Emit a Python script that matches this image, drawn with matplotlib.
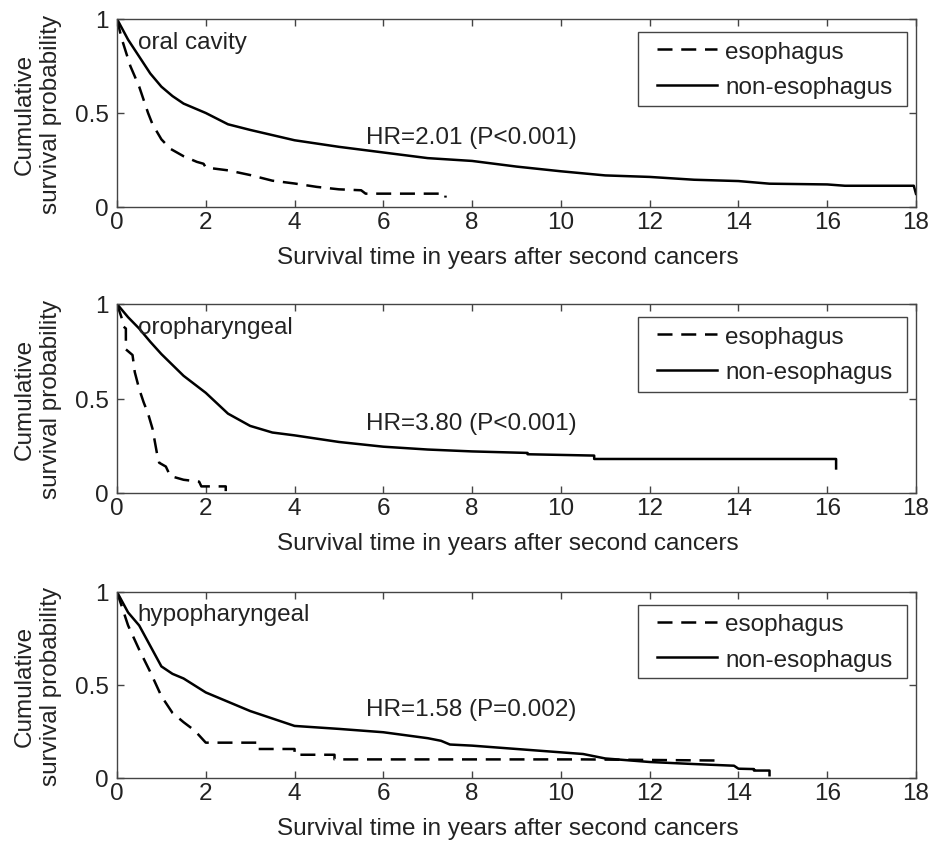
import matplotlib
matplotlib.use("Agg")
import matplotlib.pyplot as plt
from matplotlib.patches import Rectangle

plt.rcParams['font.family'] = ['Liberation Sans', 'DejaVu Sans']

# ---------------- data ----------------
sites = ["oral cavity", "oropharyngeal", "hypopharyngeal"]
hr_texts = ["HR=2.01 (P<0.001)", "HR=3.80 (P<0.001)", "HR=1.58 (P=0.002)"]
legend_labels = ["esophagus", "non-esophagus"]
x_ticks = [0, 2, 4, 6, 8, 10, 12, 14, 16, 18]
y_ticks = [0, 0.5, 1]
y_tick_labels = ["0", "0.5", "1"]

# oral cavity
oral_eso_t = [0, 0.1, 0.3, 0.5, 0.6, 0.7, 0.8, 1.0, 1.2, 1.5, 1.8, 1.95, 2.0, 2.5, 3.0, 3.5, 4.0, 4.5, 5.0, 5.5, 5.6, 7.0, 7.4, 7.4]
oral_eso_s = [1, 0.9, 0.75, 0.64, 0.57, 0.5, 0.44, 0.36, 0.31, 0.27, 0.24, 0.23, 0.21, 0.195, 0.17, 0.14, 0.125, 0.107, 0.094, 0.089, 0.071, 0.071, 0.071, 0.05]
oral_non_t = [0, 0.25, 0.5, 0.75, 1, 1.25, 1.5, 2, 2.5, 3, 4, 5, 6, 7, 8, 9, 10, 11, 12, 13, 14, 14.7, 16, 16.4, 17.95, 18]
oral_non_s = [1, 0.89, 0.80, 0.71, 0.64, 0.59, 0.55, 0.50, 0.44, 0.41, 0.355, 0.32, 0.29, 0.26, 0.245, 0.215, 0.19, 0.168, 0.16, 0.145, 0.138, 0.124, 0.12, 0.113, 0.113, 0.07]

# oropharyngeal
oro_eso_t = [0, 0.1, 0.15, 0.2, 0.2, 0.35, 0.4, 0.5, 0.6, 0.7, 0.8, 0.9, 0.95, 1.1, 1.2, 1.5, 1.85, 1.9, 2.45, 2.45]
oro_eso_s = [1, 0.93, 0.88, 0.87, 0.76, 0.73, 0.64, 0.55, 0.48, 0.42, 0.34, 0.21, 0.16, 0.14, 0.09, 0.07, 0.06, 0.035, 0.035, 0.01]
oro_non_t = [0, 0.25, 0.5, 0.75, 1, 1.5, 2, 2.5, 3, 3.5, 4, 5, 6, 7, 8, 9.25, 9.25, 10.75, 10.75, 16.2, 16.2]
oro_non_s = [1, 0.93, 0.87, 0.80, 0.735, 0.62, 0.53, 0.42, 0.355, 0.32, 0.305, 0.27, 0.245, 0.23, 0.22, 0.212, 0.205, 0.198, 0.18, 0.18, 0.13]

# hypopharyngeal
hypo_eso_t = [0, 0.25, 0.5, 0.75, 1, 1.25, 1.5, 1.75, 2.0, 3.15, 3.15, 4.0, 4.0, 4.9, 4.9, 10.5, 13.5]
hypo_eso_s = [1, 0.82, 0.69, 0.57, 0.44, 0.35, 0.30, 0.255, 0.19, 0.19, 0.156, 0.156, 0.125, 0.125, 0.10, 0.10, 0.094]
hypo_non_t = [0, 0.25, 0.5, 0.75, 1, 1.25, 1.5, 2, 2.5, 3, 3.5, 4, 5, 6, 7, 7.3, 7.5, 8, 9, 10, 10.5, 11, 12, 13, 13.9, 14.0, 14.35, 14.35, 14.7, 14.7]
hypo_non_s = [1, 0.89, 0.82, 0.71, 0.60, 0.56, 0.535, 0.46, 0.41, 0.36, 0.32, 0.28, 0.264, 0.246, 0.214, 0.20, 0.18, 0.174, 0.156, 0.138, 0.129, 0.105, 0.086, 0.075, 0.066, 0.05, 0.048, 0.04, 0.04, 0.015]

eso_t = [oral_eso_t, oro_eso_t, hypo_eso_t]
eso_s = [oral_eso_s, oro_eso_s, hypo_eso_s]
non_t = [oral_non_t, oro_non_t, hypo_non_t]
non_s = [oral_non_s, oro_non_s, hypo_non_s]

# ---------------- figure ----------------
W, H = 932, 845
fig = plt.figure(figsize=(W / 100, H / 100), dpi=100)
fig.patch.set_facecolor("white")

FS = 17.5
TXT = "#222222"
SPINE = "#444444"

panels_px = [(20, 208), (305, 494), (593, 779)]  # (top, bottom) pixel rows
left_px, right_px = 117, 916

for i in range(3):
    top, bot = panels_px[i]
    hpx = bot - top
    ax = fig.add_axes([left_px / W, (H - bot) / H, (right_px - left_px) / W, hpx / H])
    l1, = ax.plot(eso_t[i], eso_s[i], color="black", lw=1.8, linestyle=(0, (6, 3.5)))
    l2, = ax.plot(non_t[i], non_s[i], color="black", lw=1.8, linestyle="-")
    ax.set_xlim(0, 18)
    ax.set_ylim(0, 1)
    ax.set_xticks(x_ticks)
    ax.set_xticklabels([str(v) for v in x_ticks])
    ax.set_yticks(y_ticks)
    ax.set_yticklabels(y_tick_labels)
    ax.tick_params(direction="in", length=5, width=1, top=True, right=True,
                   labelsize=FS, labelcolor=TXT, color=SPINE)
    ax.tick_params(axis="x", pad=3)
    ax.tick_params(axis="y", pad=6)
    for sp in ax.spines.values():
        sp.set_color(SPINE)
        sp.set_linewidth(1.0)

    ax.text(0.47, 0.88, sites[i], fontsize=FS, color=TXT, ha="left", va="center")
    ax.text(5.6, 0.37, hr_texts[i], fontsize=FS, color=TXT, ha="left", va="center")

    ax.text(-0.099, 0.5, "Cumulative\nsurvival probability", transform=ax.transAxes,
            rotation=90, ha="center", va="center", multialignment="center",
            fontsize=FS, color=TXT, linespacing=1.2)
    ax.text(0.489, -50.0 / hpx, "Survival time in years after second cancers", transform=ax.transAxes,
            ha="center", va="center", fontsize=FS, color=TXT)

    # legend box (frame drawn separately to match the reference padding)
    ax.add_patch(Rectangle((0.652, 0.537), 0.989 - 0.652, 0.932 - 0.537, transform=ax.transAxes,
                           facecolor="white", edgecolor=SPINE, lw=1.0, zorder=4))
    leg = ax.legend([l1, l2], legend_labels, loc="upper left", bbox_to_anchor=(0.676, 0.885),
                    fontsize=FS, frameon=False, handlelength=2.47, handletextpad=0.33,
                    labelspacing=0.55, borderpad=0.0, borderaxespad=0.0, labelcolor=TXT)
    leg.set_zorder(5)

fig.savefig("out.png", dpi=100, facecolor="white")
